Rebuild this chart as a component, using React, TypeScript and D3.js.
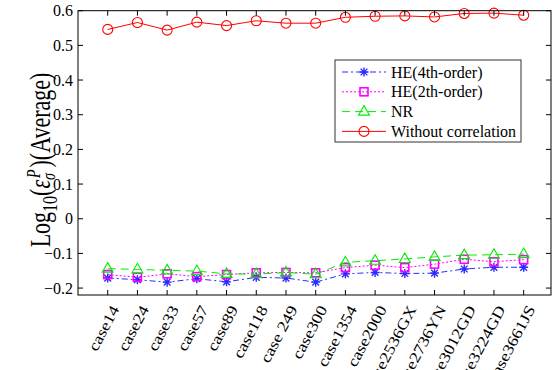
import React, { useEffect, useRef } from "react";
import * as d3 from "d3";

const cases = [
  "case14", "case24", "case33", "case57", "case89", "case118", "case 249", "case300",
  "case1354", "case2000", "case2536GX", "case2736YN", "case3012GD", "case3224GD", "case3661JS",
];

const he4 = [-0.171, -0.176, -0.183, -0.173, -0.182, -0.169, -0.171, -0.183, -0.159, -0.155, -0.158, -0.157, -0.145, -0.14, -0.14];
const he2 = [-0.161, -0.169, -0.159, -0.167, -0.161, -0.156, -0.155, -0.156, -0.141, -0.134, -0.141, -0.131, -0.117, -0.124, -0.118];
const nr = [-0.144, -0.146, -0.149, -0.151, -0.159, -0.16, -0.155, -0.16, -0.126, -0.121, -0.116, -0.11, -0.105, -0.104, -0.102];
const noCorr = [0.546, 0.566, 0.544, 0.567, 0.557, 0.571, 0.564, 0.564, 0.581, 0.584, 0.585, 0.582, 0.592, 0.593, 0.587];

const yTicks = [-0.2, -0.1, 0, 0.1, 0.2, 0.3, 0.4, 0.5, 0.6];

const series = [
  { name: "HE(4th-order)", values: he4, color: "#2b2bff", dash: "6,3,2,3", marker: "star" },
  { name: "HE(2th-order)", values: he2, color: "#ff00ff", dash: "2,2", marker: "square" },
  { name: "NR", values: nr, color: "#00ee00", dash: "8,5", marker: "triangle" },
  { name: "Without correlation", values: noCorr, color: "#ff0000", dash: null, marker: "circle" },
];

const FONT = "'Liberation Serif', 'Times New Roman', serif";

function drawMarker(g: any, type: string, cx: number, cy: number, color: string) {
  if (type === "circle") {
    g.append("circle").attr("cx", cx).attr("cy", cy).attr("r", 5)
      .attr("fill", "none").attr("stroke", color).attr("stroke-width", 1.1);
  } else if (type === "square") {
    g.append("rect").attr("x", cx - 4).attr("y", cy - 4).attr("width", 8).attr("height", 8)
      .attr("fill", "none").attr("stroke", color).attr("stroke-width", 1.6);
  } else if (type === "triangle") {
    g.append("path").attr("d", `M${cx},${cy - 6}L${cx + 5.5},${cy + 3.5}L${cx - 5.5},${cy + 3.5}Z`)
      .attr("fill", "none").attr("stroke", color).attr("stroke-width", 1.1);
  } else {
    const r = 4.5;
    const d = `M${cx - r},${cy}L${cx + r},${cy}M${cx},${cy - r}L${cx},${cy + r}` +
      `M${cx - r * 0.75},${cy - r * 0.75}L${cx + r * 0.75},${cy + r * 0.75}` +
      `M${cx - r * 0.75},${cy + r * 0.75}L${cx + r * 0.75},${cy - r * 0.75}`;
    g.append("path").attr("d", d).attr("stroke", color).attr("stroke-width", 1.4).attr("fill", "none");
  }
}

const App: React.FC = () => {
  const ref = useRef<SVGSVGElement>(null);

  useEffect(() => {
    const svg = d3.select(ref.current);
    svg.selectAll("*").remove();

    const left = 78, right = 551, top = 10.7, bottom = 295;
    const x = d3.scaleLinear().domain([-1, cases.length - 0.08]).range([left, right]);
    const y = d3.scaleLinear().domain([-0.22, 0.6]).range([bottom, top]);

    // lines and markers
    series.forEach((s) => {
      const line = d3.line<number>().x((_d, i) => x(i)).y((d) => y(d));
      svg.append("path").datum(s.values).attr("d", line)
        .attr("fill", "none").attr("stroke", s.color).attr("stroke-width", 1)
        .attr("stroke-dasharray", s.dash || null);
      const mg = svg.append("g");
      s.values.forEach((v, i) => drawMarker(mg, s.marker, x(i), y(v), s.color));
    });

    // frame
    svg.append("rect").attr("x", left).attr("y", top).attr("width", right - left).attr("height", bottom - top)
      .attr("fill", "none").attr("stroke", "#000").attr("stroke-width", 1);

    const tickG = svg.append("g").attr("stroke", "#000").attr("stroke-width", 1);
    cases.forEach((_c, i) => {
      tickG.append("line").attr("x1", x(i)).attr("x2", x(i)).attr("y1", bottom).attr("y2", bottom - 5);
      tickG.append("line").attr("x1", x(i)).attr("x2", x(i)).attr("y1", top).attr("y2", top + 5);
    });
    yTicks.forEach((t) => {
      tickG.append("line").attr("x1", left).attr("x2", left + 5).attr("y1", y(t)).attr("y2", y(t));
      tickG.append("line").attr("x1", right).attr("x2", right - 5).attr("y1", y(t)).attr("y2", y(t));
    });

    // y tick labels
    svg.append("g").selectAll("text").data(yTicks).enter().append("text")
      .attr("x", left - 5).attr("y", (d) => y(d) + 5.5)
      .attr("text-anchor", "end").attr("font-family", FONT).attr("font-size", 16)
      .text((d) => (d === 0 ? "0" : d3.format(".1f")(d)));

    // x tick labels
    svg.append("g").selectAll("text").data(cases).enter().append("text")
      .attr("transform", (_d, i) => `translate(${x(i) + 12},${bottom + 14}) rotate(-62) scale(1,0.85)`)
      .attr("text-anchor", "end").attr("font-family", FONT).attr("font-size", 18)
      .text((d) => d);

    // y axis title
    const yl = svg.append("text")
      .attr("transform", `translate(50,160) scale(1.3,1) rotate(-90)`)
      .attr("text-anchor", "middle").attr("font-family", FONT).attr("font-size", 22);
    yl.append("tspan").text("Log");
    yl.append("tspan").attr("font-size", 16).attr("dy", 5).text("10");
    yl.append("tspan").attr("dy", -5).text("(");
    yl.append("tspan").attr("font-style", "italic").text("ε");
    yl.append("tspan").attr("font-size", 14).attr("font-style", "italic").attr("dy", 4).text("σ");
    yl.append("tspan").attr("font-size", 14).attr("font-style", "italic").attr("dx", -5).attr("dy", -12).text("P");
    yl.append("tspan").attr("dx", 2).attr("dy", 8).text(")(Average)");

    // legend
    const lg = svg.append("g");
    lg.append("rect").attr("x", 335).attr("y", 60).attr("width", 186).attr("height", 82)
      .attr("fill", "#fff").attr("stroke", "#333").attr("stroke-width", 1);
    series.forEach((s, i) => {
      const ly = 72 + i * 19.8;
      lg.append("line").attr("x1", 342).attr("x2", 386).attr("y1", ly).attr("y2", ly)
        .attr("stroke", s.color).attr("stroke-width", 1).attr("stroke-dasharray", s.dash || null);
      drawMarker(lg, s.marker, 364, ly, s.color);
      lg.append("text").attr("x", 391).attr("y", ly + 5.5)
        .attr("font-family", FONT).attr("font-size", 16).text(s.name);
    });
  }, []);

  return (
    <svg ref={ref} width={555} height={370}
      style={{ position: "absolute", left: 0, top: 0, background: "#fff" }} />
  );
};

export default App;
